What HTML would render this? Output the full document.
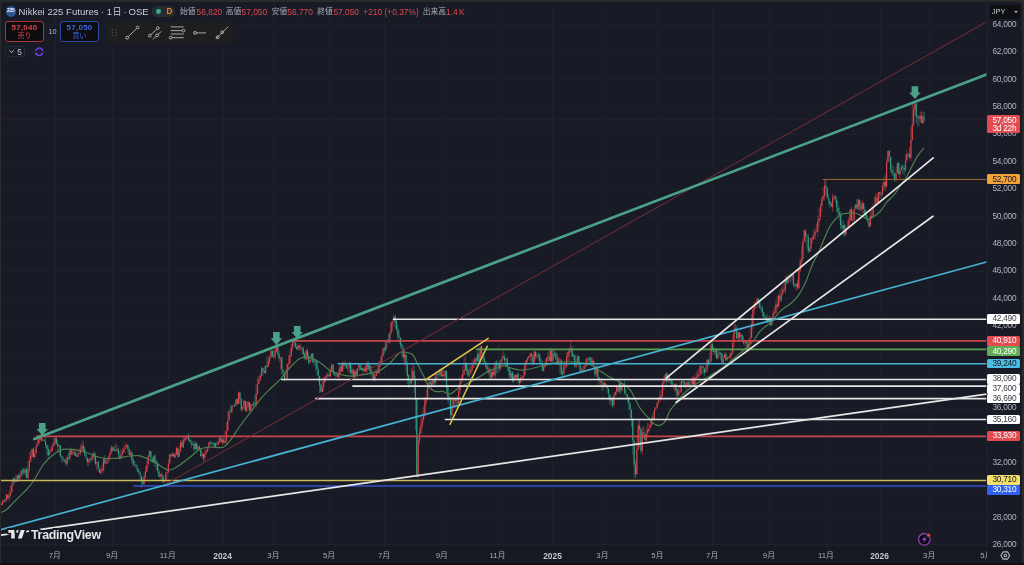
<!DOCTYPE html>
<html><head><meta charset="utf-8"><title>Nikkei 225 Futures</title>
<style>
*{box-sizing:border-box}
html,body{margin:0;padding:0;width:1024px;height:565px;overflow:hidden;background:#2a2a2a}
body{position:relative;font-family:"Liberation Sans","Noto Sans CJK JP",sans-serif}
#pane{position:absolute;left:1px;top:2px;width:1021px;height:561px;background:#181b26;border-radius:3px;overflow:hidden}
#tax{position:absolute;left:1px;top:547px;width:1021px;height:16px;background:#161822}
#bot{position:absolute;left:0;top:563px;width:1024px;height:2px;background:#111112}
svg{position:absolute;left:0;top:0}
.ax{position:absolute;left:992.4px;width:30px;font-size:8.3px;letter-spacing:-0.25px;color:#b0b3bb;line-height:10px;height:10px;margin-top:-5.1px;white-space:nowrap}
.bx{position:absolute;left:987px;width:33px;height:9.6px;margin-top:-4.8px;border-radius:1.5px;font-size:8.3px;letter-spacing:-0.25px;line-height:9.8px;padding-left:5.4px;padding-top:0.3px;white-space:nowrap}
.tm{position:absolute;top:3px;font-size:7.8px;color:#a9acb5;line-height:10px;transform:translateX(-50%);white-space:nowrap}
.tm.b{font-weight:bold;color:#c5c8d0;font-size:8.4px}
.hdr{position:absolute;white-space:nowrap;line-height:12px}
</style></head><body>
<div id="pane"></div>
<div id="tax"></div>
<div id="bot"></div>

<svg width="1024" height="565" viewBox="0 0 1024 565"><defs><clipPath id="cp"><rect x="1" y="2" width="985.5" height="545"/></clipPath></defs>
<line x1="987.0" y1="2" x2="987.0" y2="547" stroke="#1f2330" stroke-width="1"/>
<g clip-path="url(#cp)"><path d="M1 544.5H986.5 M1 517.5H986.5 M1 490.5H986.5 M1 462.5H986.5 M1 435.5H986.5 M1 408.5H986.5 M1 380.5H986.5 M1 353.5H986.5 M1 325.5H986.5 M1 298.5H986.5 M1 271.5H986.5 M1 243.5H986.5 M1 216.5H986.5 M1 189.5H986.5 M1 161.5H986.5 M1 134.5H986.5 M1 106.5H986.5 M1 79.5H986.5 M1 52.5H986.5 M1 24.5H986.5 M55.5 2V547 M112.5 2V547 M168.5 2V547 M223.5 2V547 M273.5 2V547 M329.5 2V547 M384.5 2V547 M442.5 2V547 M498.5 2V547 M552.5 2V547 M602.5 2V547 M657.5 2V547 M712.5 2V547 M769.5 2V547 M826.5 2V547 M880.5 2V547 M929.5 2V547" stroke="#1e2029" stroke-width="1" fill="none"/>
<line x1="1" y1="119.8" x2="986.5" y2="119.8" stroke="#2e1f2a" stroke-width="1"/>
<path d="M1.00 502.6V505.6M5.05 498.3V502.2M7.75 494.1V499.5M14.50 477.5V482.9M15.85 474.8V482.4M18.55 473.8V479.7M22.60 468.0V475.7M23.95 467.2V474.7M26.65 467.0V478.3M33.40 447.5V457.4M41.50 433.9V441.6M44.20 438.7V441.1M45.55 437.3V447.9M46.90 444.8V455.2M48.25 445.6V458.9M56.35 435.1V444.7M57.70 440.1V450.9M60.40 445.2V457.1M61.75 455.3V462.0M63.10 455.7V462.4M64.45 459.3V462.6M65.80 457.7V465.9M68.50 452.3V460.1M71.20 447.3V455.1M75.25 448.9V456.4M76.60 452.6V456.4M83.35 441.6V452.4M84.70 446.9V455.3M86.05 453.3V460.4M87.40 457.1V465.7M90.10 456.9V463.0M91.45 456.0V461.8M94.15 451.0V461.5M95.50 452.8V466.1M98.20 461.0V471.8M99.55 468.1V473.2M104.95 455.1V463.8M113.05 447.1V451.5M114.40 445.6V451.3M118.45 447.6V457.1M119.80 450.6V459.9M127.90 444.6V452.7M129.25 448.3V455.0M131.95 450.8V463.6M133.30 458.6V467.0M134.65 460.8V464.8M136.00 464.0V468.3M137.35 464.8V472.1M138.70 468.4V473.9M140.05 470.9V481.2M141.40 475.6V488.2M142.75 477.2V485.0M150.85 450.9V461.7M152.20 456.6V462.9M154.90 454.4V467.1M156.25 459.8V470.5M157.60 462.0V473.4M158.95 469.0V477.5M161.65 472.3V481.2M163.00 475.4V483.5M171.10 453.4V458.5M173.80 452.9V457.5M177.85 447.7V458.6M181.90 440.1V447.2M188.65 433.2V440.6M190.00 439.1V442.7M191.35 439.6V447.9M192.70 440.8V444.9M194.05 441.1V451.8M196.75 443.0V452.3M199.45 445.2V451.0M200.80 447.9V456.4M203.50 453.1V461.6M210.25 440.5V444.9M212.95 442.2V445.0M214.30 441.9V447.4M217.00 440.9V445.1M221.05 435.2V442.4M223.75 436.0V443.6M230.50 405.4V412.4M234.55 403.6V407.1M237.25 398.0V404.8M239.95 392.1V403.8M241.30 397.7V411.8M245.35 400.7V411.3M249.40 402.1V411.3M252.10 404.1V407.9M254.80 395.0V405.7M262.90 367.9V376.1M264.25 366.4V373.1M266.95 356.5V368.2M272.35 350.6V357.5M277.75 344.0V356.0M279.10 350.6V362.3M281.80 355.9V374.6M283.15 369.6V377.1M284.50 371.5V381.4M293.95 339.0V345.3M295.30 341.8V348.1M296.65 343.4V350.3M299.35 344.7V350.4M302.05 346.1V354.5M303.40 346.8V358.2M304.75 352.1V360.2M307.45 348.1V359.8M308.80 352.1V365.2M312.85 353.1V363.7M314.20 359.0V366.1M316.90 360.8V375.1M318.25 367.1V382.3M319.60 375.6V393.2M320.95 384.1V392.9M327.70 372.5V378.3M329.05 369.6V377.0M333.10 363.8V374.4M334.45 371.7V375.4M337.15 372.3V377.0M341.20 364.9V372.4M343.90 361.6V369.3M346.60 363.0V368.5M350.65 362.1V374.5M353.35 369.1V378.5M356.05 369.3V376.5M360.10 363.7V370.6M362.80 367.9V371.2M365.50 365.0V371.7M368.20 360.9V370.9M370.90 364.8V376.8M372.25 370.3V378.3M373.60 371.8V381.2M377.65 363.7V373.2M384.40 346.5V354.0M387.10 338.9V348.4M388.45 333.7V342.7M395.20 314.8V328.8M396.55 319.4V331.6M397.90 325.3V339.3M399.25 330.6V343.5M400.60 337.2V348.6M401.95 343.7V357.5M403.30 345.6V361.3M406.00 353.9V372.7M407.35 361.2V384.1M408.70 374.2V388.2M410.05 379.5V387.4M414.10 366.4V393.0M415.45 376.1V430.7M416.80 398.2V477.1M430.30 379.1V385.1M431.65 380.8V387.5M434.35 377.6V385.9M438.40 373.5V378.8M441.10 368.3V376.6M443.80 369.0V377.1M446.50 370.3V392.2M447.85 385.0V402.5M449.20 395.3V407.3M450.55 397.2V419.0M455.95 398.3V407.9M457.30 395.5V407.2M466.75 362.2V374.8M468.10 368.8V377.2M476.20 355.9V363.3M478.90 351.5V363.9M481.60 345.5V359.4M482.95 352.0V362.4M484.30 355.1V362.4M485.65 361.0V368.3M487.00 364.3V371.7M489.70 367.3V380.1M491.05 368.2V378.8M493.75 366.3V375.6M496.45 360.0V373.5M499.15 359.6V372.2M504.55 354.2V363.2M507.25 357.2V371.0M508.60 365.6V375.1M509.95 367.5V377.8M512.65 370.9V382.5M515.35 374.2V378.9M518.05 372.1V383.5M519.40 378.7V385.7M531.55 352.4V361.6M532.90 354.7V365.1M535.60 350.9V359.3M538.30 352.3V360.4M539.65 354.0V362.6M541.00 358.1V364.1M542.35 359.8V371.6M549.10 349.0V361.2M551.80 348.5V364.6M554.50 349.1V357.1M555.85 351.9V360.0M557.20 353.0V363.6M561.25 358.8V375.8M562.60 367.9V376.6M565.30 361.3V369.3M572.05 345.6V357.4M574.75 354.5V367.9M578.80 355.4V367.5M580.15 363.5V373.6M588.25 356.4V364.2M590.95 356.9V364.2M593.65 359.3V368.9M595.00 365.6V377.1M597.70 362.7V379.8M599.05 376.9V384.7M601.75 377.8V390.9M603.10 382.3V390.8M605.80 383.4V387.0M607.15 384.8V392.9M608.50 388.3V398.2M609.85 393.6V405.0M612.55 396.2V407.8M617.95 385.9V392.8M620.65 378.9V393.1M624.70 379.8V393.8M626.05 389.4V397.3M627.40 394.2V403.1M628.75 397.0V409.9M630.10 402.8V418.4M631.45 408.9V427.1M632.80 418.3V454.6M634.15 439.2V477.6M635.50 460.5V478.7M639.55 419.0V447.3M640.90 427.4V453.1M643.60 426.3V438.2M644.95 431.4V440.7M653.05 411.9V420.1M666.55 371.9V385.1M669.25 375.8V384.3M670.60 378.6V383.8M671.95 379.1V386.0M676.00 383.0V396.6M677.35 388.6V398.5M682.75 380.2V383.1M684.10 381.0V387.2M688.15 380.4V386.3M693.55 376.7V387.1M701.65 365.8V374.5M703.00 365.6V374.2M704.35 367.9V376.6M708.40 359.3V366.2M712.45 342.4V352.3M713.80 346.9V355.2M716.50 348.3V358.7M719.20 350.1V357.2M720.55 351.4V359.8M721.90 352.5V363.5M725.95 352.3V360.6M736.75 325.8V338.4M739.45 331.8V340.9M742.15 334.8V341.9M743.50 336.4V344.3M746.20 340.7V349.2M747.55 340.1V351.0M758.35 298.3V305.7M759.70 300.3V308.4M761.05 305.3V311.4M762.40 305.4V316.8M763.75 311.9V318.7M765.10 314.7V319.0M766.45 315.2V323.0M769.15 316.1V324.3M770.50 317.1V326.4M777.25 295.9V309.0M779.95 290.7V302.9M786.70 276.0V283.7M790.75 272.9V282.6M793.45 273.9V286.8M794.80 282.7V287.8M797.50 279.5V289.4M805.60 229.2V242.5M806.95 234.0V248.7M808.30 234.1V253.4M825.85 180.1V195.2M827.20 187.1V198.9M828.55 194.0V205.5M829.90 198.7V207.9M831.25 202.0V206.7M835.30 195.3V202.3M836.65 196.3V212.1M838.00 201.2V216.5M839.35 207.5V220.4M840.70 211.2V229.2M842.05 221.4V231.0M844.75 223.7V236.8M851.50 206.5V220.7M856.90 198.9V209.6M859.60 198.8V211.7M860.95 201.6V210.5M863.65 202.2V213.3M865.00 207.0V217.8M866.35 211.5V219.8M867.70 215.3V223.3M869.05 218.5V227.6M871.75 206.9V218.9M877.15 193.8V203.2M879.85 191.9V198.6M885.25 174.5V190.5M889.30 150.0V162.5M890.65 156.0V171.7M892.00 163.7V176.0M893.35 166.5V177.5M894.70 172.5V181.9M898.75 162.1V174.4M902.80 164.0V173.8M904.15 164.8V175.8M908.20 152.7V157.5M909.55 147.5V158.4M916.30 102.9V123.4M919.00 114.9V126.1M921.70 110.6V123.4M924.40 112.2V121.4" stroke="#31a083" stroke-width="0.55" fill="none" opacity="0.9"/>
<path d="M2.35 499.4V505.4M3.70 499.1V502.5M6.40 493.4V501.3M9.10 490.5V500.9M10.45 485.9V496.6M11.80 481.3V492.7M13.15 477.7V486.6M17.20 474.8V481.9M19.90 472.7V481.0M21.25 469.9V477.4M25.30 468.8V476.3M28.00 460.7V479.2M29.35 452.2V472.5M30.70 450.7V462.5M32.05 448.8V458.1M34.75 449.6V458.6M36.10 442.5V453.5M37.45 437.2V446.9M38.80 438.7V444.5M40.15 433.9V442.1M42.85 438.5V441.2M49.60 448.9V455.3M50.95 446.1V452.7M52.30 443.1V451.2M53.65 438.2V447.1M55.00 437.5V445.1M59.05 444.2V454.5M67.15 455.3V466.0M69.85 449.4V461.2M72.55 448.8V454.8M73.90 447.5V455.2M77.95 449.3V457.6M79.30 448.1V454.6M80.65 444.5V455.5M82.00 440.4V452.0M88.75 458.5V465.8M92.80 452.1V460.0M96.85 461.3V470.4M100.90 466.0V474.9M102.25 463.1V471.5M103.60 457.9V473.1M106.30 458.3V464.1M107.65 457.3V463.4M109.00 453.4V460.6M110.35 448.4V457.4M111.70 445.3V453.8M115.75 442.5V451.9M117.10 445.1V452.2M121.15 448.9V459.4M122.50 448.1V454.9M123.85 445.2V453.0M125.20 443.3V450.4M126.55 443.2V447.3M130.60 449.8V457.4M144.10 472.8V485.4M145.45 466.3V478.3M146.80 460.5V472.5M148.15 454.2V467.1M149.50 450.0V457.6M153.55 455.1V463.2M160.30 473.9V478.4M164.35 479.1V483.0M165.70 472.0V481.2M167.05 467.1V478.9M168.40 458.8V473.4M169.75 454.0V463.5M172.45 452.2V456.5M175.15 452.0V458.0M176.50 446.7V455.1M179.20 445.4V457.0M180.55 440.1V452.7M183.25 437.0V448.2M184.60 435.6V443.2M185.95 436.6V441.1M187.30 434.7V439.0M195.40 441.2V449.7M198.10 446.4V450.9M202.15 452.0V458.5M204.85 448.5V461.0M206.20 448.6V454.2M207.55 445.7V452.3M208.90 442.2V449.4M211.60 441.5V444.3M215.65 442.5V447.5M218.35 438.2V446.5M219.70 436.6V442.7M222.40 438.2V445.2M225.10 430.9V444.1M226.45 422.1V443.9M227.80 410.7V430.9M229.15 409.0V420.2M231.85 405.3V413.6M233.20 405.5V407.6M235.90 399.3V406.1M238.60 391.2V403.9M242.65 406.3V411.1M244.00 399.4V408.3M246.70 401.8V411.8M248.05 400.7V407.5M250.75 403.2V411.8M253.45 401.0V406.1M256.15 383.3V407.6M257.50 377.2V394.3M258.85 375.9V384.5M260.20 372.9V380.8M261.55 366.6V376.8M265.60 364.8V373.8M268.30 356.1V367.6M269.65 355.4V364.5M271.00 349.5V358.3M273.70 350.3V357.7M275.05 345.3V360.5M276.40 344.0V352.1M280.45 356.9V369.3M285.85 368.9V379.6M287.20 363.1V379.7M288.55 355.3V369.9M289.90 349.6V364.3M291.25 343.7V357.0M292.60 341.0V351.5M298.00 344.5V350.8M300.70 343.8V350.7M306.10 349.7V360.5M310.15 356.1V363.0M311.50 353.1V360.8M315.55 360.1V370.8M322.30 379.7V392.1M323.65 376.9V391.3M325.00 376.0V382.8M326.35 373.1V378.6M330.40 366.9V376.8M331.75 363.8V371.1M335.80 374.0V380.0M338.50 369.3V381.0M339.85 365.0V378.1M342.55 361.1V372.2M345.25 360.9V367.1M347.95 364.1V372.8M349.30 361.2V373.0M352.00 365.8V375.5M354.70 368.9V377.8M357.40 367.7V377.4M358.75 363.8V371.0M361.45 363.9V370.7M364.15 366.0V372.5M366.85 360.9V374.2M369.55 364.5V372.5M374.95 369.3V381.5M376.30 369.0V376.3M379.00 360.7V374.8M380.35 356.6V367.0M381.70 353.3V364.9M383.05 348.2V356.9M385.75 341.2V351.8M389.80 330.7V344.0M391.15 322.3V334.9M392.50 321.1V331.2M393.85 314.8V326.1M404.65 350.2V365.4M411.40 368.4V383.6M412.75 362.8V380.0M418.15 435.8V478.0M419.50 427.9V444.5M420.85 417.4V433.8M422.20 410.4V428.6M423.55 406.1V421.5M424.90 397.1V417.2M426.25 390.0V404.7M427.60 383.5V399.2M428.95 381.5V387.2M433.00 380.0V386.9M435.70 373.9V384.2M437.05 372.3V380.2M439.75 368.8V376.8M442.45 368.4V376.8M445.15 370.1V381.1M451.90 397.9V417.8M453.25 397.2V410.5M454.60 397.9V407.9M458.65 385.4V404.1M460.00 377.4V394.4M461.35 374.7V384.3M462.70 366.6V381.0M464.05 357.5V375.4M465.40 355.7V371.3M469.45 365.3V377.2M470.80 366.3V375.3M472.15 359.1V371.8M473.50 360.0V368.1M474.85 357.9V367.5M477.55 351.1V361.4M480.25 345.5V362.2M488.35 365.5V375.2M492.40 370.1V378.3M495.10 361.1V379.1M497.80 363.3V373.4M500.50 359.9V369.7M501.85 354.9V362.6M503.20 351.0V359.5M505.90 357.4V367.5M511.30 371.5V380.5M514.00 374.8V382.8M516.70 373.5V379.2M520.75 374.8V383.4M522.10 375.7V381.9M523.45 368.6V380.0M524.80 361.2V376.6M526.15 359.7V368.6M527.50 357.0V363.9M528.85 355.9V359.6M530.20 352.5V362.7M534.25 350.6V363.3M536.95 353.5V358.5M543.70 365.2V371.6M545.05 359.6V367.8M546.40 357.6V365.3M547.75 352.4V364.2M550.45 348.1V362.4M553.15 349.7V363.0M558.55 356.1V365.8M559.90 357.9V374.4M563.95 364.6V375.2M566.65 352.3V367.6M568.00 350.8V361.2M569.35 347.1V360.8M570.70 342.0V352.2M573.40 353.5V359.8M576.10 358.1V368.0M577.45 354.7V364.2M581.50 368.0V371.6M582.85 366.1V373.4M584.20 364.5V370.1M585.55 358.8V368.6M586.90 357.2V366.3M589.60 357.4V363.6M592.30 357.4V365.2M596.35 366.0V376.8M600.40 380.8V387.5M604.45 380.4V388.5M611.20 396.7V406.1M613.90 392.6V407.1M615.25 391.6V396.2M616.60 384.9V395.4M619.30 382.1V393.8M622.00 382.3V391.7M623.35 383.5V387.0M636.85 436.6V475.0M638.20 420.9V450.1M642.25 426.7V454.2M646.30 426.6V443.7M647.65 422.8V435.6M649.00 423.2V431.7M650.35 419.2V428.1M651.70 415.8V426.1M654.40 407.4V420.1M655.75 407.2V411.5M657.10 401.9V408.3M658.45 397.3V404.9M659.80 390.4V402.5M661.15 390.1V398.4M662.50 381.4V397.0M663.85 375.9V390.3M665.20 374.2V382.7M667.90 372.5V382.2M673.30 382.8V389.6M674.65 383.6V391.7M678.70 387.2V396.3M680.05 382.1V393.4M681.40 380.9V393.6M685.45 381.9V388.6M686.80 381.7V388.5M689.50 381.4V387.1M690.85 378.6V384.4M692.20 376.1V385.1M694.90 374.8V385.8M696.25 371.8V379.7M697.60 369.8V378.0M698.95 368.3V378.4M700.30 365.0V375.6M705.70 366.1V372.9M707.05 358.6V371.8M709.75 352.7V363.9M711.10 342.1V361.4M715.15 348.5V356.1M717.85 350.2V359.8M723.25 354.7V363.7M724.60 352.3V358.9M727.30 356.4V361.2M728.65 356.2V358.3M730.00 352.3V362.2M731.35 350.4V358.3M732.70 335.3V355.2M734.05 323.8V346.9M735.40 323.9V333.7M738.10 332.0V340.0M740.80 332.6V339.0M744.85 340.8V346.0M748.90 337.3V348.6M750.25 327.1V345.6M751.60 314.2V338.8M752.95 307.7V329.3M754.30 300.9V314.2M755.65 302.1V308.7M757.00 297.6V308.4M767.80 314.2V323.7M771.85 315.8V325.4M773.20 310.3V319.5M774.55 306.6V314.7M775.90 299.9V313.1M778.60 294.0V307.0M781.30 287.9V302.4M782.65 286.2V295.5M784.00 283.0V292.8M785.35 275.8V293.4M788.05 274.1V284.7M789.40 275.2V281.4M792.10 273.9V281.8M796.15 283.4V291.0M798.85 269.3V288.8M800.20 257.7V272.0M801.55 246.4V267.1M802.90 238.7V261.4M804.25 230.1V242.5M809.65 246.6V252.8M811.00 237.8V251.7M812.35 234.8V243.1M813.70 230.2V239.9M815.05 228.0V239.5M816.40 223.8V232.0M817.75 215.7V237.0M819.10 208.3V226.0M820.45 203.1V220.5M821.80 196.6V211.6M823.15 187.1V200.9M824.50 179.8V200.4M832.60 193.1V211.7M833.95 195.7V200.1M843.40 220.3V236.5M846.10 225.8V235.8M847.45 220.5V228.7M848.80 217.0V227.7M850.15 208.8V223.2M852.85 210.5V224.4M854.20 205.7V221.8M855.55 204.1V209.7M858.25 198.8V210.4M862.30 200.0V214.0M870.40 210.0V226.4M873.10 203.5V217.3M874.45 195.7V207.1M875.80 192.9V205.4M878.50 191.8V204.2M881.20 191.4V197.5M882.55 183.0V196.4M883.90 176.7V190.9M886.60 158.6V188.1M887.95 150.9V163.0M896.05 166.1V181.9M897.40 162.6V173.2M900.10 168.0V178.9M901.45 164.8V170.9M905.50 154.2V172.1M906.85 150.0V161.9M910.90 127.3V161.2M912.25 104.0V141.3M913.60 104.6V126.9M914.95 102.9V115.4M917.65 114.8V126.9M920.35 111.9V122.4M923.05 112.1V124.4" stroke="#dc444b" stroke-width="0.55" fill="none" opacity="0.9"/>
<path d="M1.00 503.9V505.2M5.05 500.1V501.5M7.75 494.9V498.0M14.50 478.2V480.4M15.85 480.4V481.9M18.55 474.9V478.2M22.60 470.1V470.9M23.95 469.6V473.5M26.65 468.8V478.0M33.40 448.5V457.1M41.50 435.4V440.1M44.20 439.7V441.1M45.55 441.5V445.1M46.90 444.8V448.9M48.25 448.7V455.4M56.35 438.1V444.1M57.70 444.0V446.3M60.40 445.5V456.7M61.75 457.1V458.5M63.10 459.1V459.9M64.45 459.5V460.3M65.80 460.3V463.5M68.50 457.7V458.5M71.20 450.3V454.8M75.25 452.5V456.1M76.60 455.7V456.5M83.35 445.4V450.0M84.70 449.0V455.2M86.05 455.1V457.1M87.40 458.0V462.0M90.10 458.6V459.4M91.45 458.7V459.8M94.15 453.3V456.7M95.50 456.1V463.9M98.20 461.5V468.8M99.55 469.2V472.7M104.95 458.3V463.6M113.05 447.2V450.5M114.40 449.6V450.4M118.45 449.7V454.8M119.80 455.6V458.6M127.90 444.9V448.9M129.25 449.1V454.7M131.95 452.6V460.2M133.30 459.7V464.7M134.65 464.3V465.1M136.00 465.2V467.3M137.35 468.1V470.3M138.70 470.2V472.1M140.05 472.4V475.1M141.40 475.8V480.8M142.75 480.6V484.1M150.85 451.3V457.6M152.20 458.5V461.4M154.90 455.5V461.8M156.25 460.9V463.1M157.60 463.1V470.4M158.95 471.2V476.7M161.65 474.3V475.7M163.00 475.6V481.6M171.10 454.6V456.2M173.80 453.8V456.8M177.85 448.2V456.4M181.90 442.3V447.1M188.65 435.5V440.6M190.00 440.2V442.2M191.35 442.9V444.3M192.70 444.3V445.1M194.05 443.9V449.6M196.75 443.2V449.1M199.45 446.8V449.5M200.80 449.2V456.2M203.50 454.1V458.2M210.25 441.7V443.8M212.95 443.0V443.8M214.30 443.5V446.3M217.00 443.5V444.3M221.05 437.8V442.0M223.75 439.3V442.8M230.50 411.0V411.8M234.55 404.9V406.0M237.25 399.1V403.6M239.95 392.7V398.9M241.30 399.0V409.5M245.35 401.1V410.8M249.40 402.1V410.8M252.10 404.4V405.6M254.80 403.1V403.9M262.90 368.2V371.0M264.25 370.8V373.0M266.95 365.8V366.9M272.35 350.8V356.6M277.75 344.6V353.8M279.10 353.9V358.4M281.80 357.7V369.6M283.15 369.6V372.5M284.50 373.1V380.5M293.95 341.4V342.6M295.30 342.7V347.0M296.65 346.9V349.1M299.35 345.4V347.8M302.05 347.8V349.0M303.40 348.7V354.0M304.75 353.8V358.5M307.45 350.5V356.5M308.80 355.7V363.0M312.85 353.6V362.3M314.20 361.3V362.1M316.90 361.5V369.0M318.25 369.4V375.8M319.60 375.9V385.5M320.95 384.7V391.8M327.70 374.9V375.7M329.05 374.4V376.0M333.10 364.6V371.9M334.45 372.3V375.4M337.15 374.3V376.7M341.20 366.0V371.1M343.90 362.9V365.7M346.60 364.8V368.4M350.65 363.4V373.0M353.35 370.5V377.5M356.05 371.0V376.0M360.10 364.8V370.0M362.80 368.2V370.8M365.50 368.4V371.0M368.20 363.2V369.2M370.90 366.5V373.7M372.25 373.4V374.2M373.60 374.2V380.5M377.65 372.1V373.0M384.40 348.4V350.5M387.10 341.1V341.9M388.45 341.5V342.4M395.20 316.2V321.9M396.55 321.2V329.3M397.90 329.5V337.1M399.25 337.2V338.0M400.60 337.8V345.1M401.95 344.8V347.5M403.30 348.1V357.6M406.00 355.0V363.2M407.35 363.3V376.0M408.70 375.3V380.8M410.05 380.9V383.6M414.10 371.2V378.6M415.45 379.1V399.8M416.80 399.3V476.9M430.30 381.9V383.7M431.65 383.0V385.3M434.35 379.8V382.8M438.40 374.1V374.9M441.10 369.5V376.4M443.80 375.1V375.9M446.50 371.3V387.9M447.85 387.8V397.0M449.20 396.8V399.4M450.55 399.8V415.0M455.95 399.3V402.3M457.30 402.7V403.5M466.75 363.3V370.6M468.10 369.6V375.5M476.20 358.4V360.7M478.90 353.9V361.5M481.60 346.5V352.9M482.95 353.2V358.7M484.30 358.4V362.4M485.65 362.3V366.0M487.00 365.4V369.6M489.70 369.8V372.3M491.05 372.2V377.8M493.75 371.8V374.7M496.45 362.1V365.2M499.15 363.5V368.9M504.55 356.8V360.5M507.25 359.1V366.9M508.60 367.6V370.6M509.95 369.9V377.6M512.65 372.4V381.5M515.35 375.1V377.4M518.05 374.1V379.7M519.40 379.5V383.2M531.55 353.9V355.8M532.90 355.6V363.1M535.60 351.9V356.3M538.30 354.6V355.4M539.65 354.8V361.4M541.00 361.5V362.4M542.35 363.4V370.6M549.10 356.5V360.9M551.80 350.6V361.1M554.50 353.3V354.2M555.85 353.7V358.4M557.20 357.8V362.3M561.25 360.2V373.5M562.60 372.6V374.4M565.30 365.5V366.3M572.05 348.4V356.8M574.75 355.1V365.7M578.80 355.9V364.9M580.15 365.3V371.6M588.25 358.7V359.5M590.95 357.5V363.9M593.65 361.0V364.8M595.00 365.7V374.5M597.70 366.7V376.9M599.05 377.0V380.7M601.75 381.3V382.2M603.10 382.5V386.9M605.80 383.5V385.3M607.15 385.0V388.6M608.50 388.5V393.5M609.85 394.5V400.4M612.55 399.0V405.5M617.95 387.2V391.5M620.65 382.8V389.5M624.70 383.7V393.7M626.05 394.0V394.8M627.40 394.6V396.9M628.75 397.1V403.3M630.10 403.6V409.5M631.45 409.8V418.2M632.80 418.6V440.6M634.15 440.7V464.8M635.50 464.7V474.2M639.55 425.6V429.2M640.90 429.1V450.8M643.60 432.3V433.1M644.95 433.4V439.8M653.05 417.8V420.0M666.55 373.3V381.0M669.25 375.8V379.6M670.60 379.3V380.7M671.95 380.2V385.7M676.00 383.7V390.7M677.35 389.7V395.3M682.75 381.0V381.8M684.10 381.4V385.7M688.15 382.1V384.9M693.55 377.9V384.5M701.65 366.0V366.8M703.00 366.5V368.1M704.35 368.2V372.9M708.40 359.6V363.2M712.45 344.5V348.8M713.80 348.6V352.1M716.50 348.9V358.6M719.20 352.4V353.4M720.55 353.2V354.3M721.90 353.6V362.5M725.95 354.0V360.6M736.75 327.7V338.4M739.45 332.1V337.6M742.15 334.8V340.5M743.50 340.7V343.2M746.20 341.2V343.7M747.55 343.9V348.3M758.35 298.4V302.3M759.70 302.1V307.8M761.05 307.5V308.6M762.40 308.4V312.8M763.75 312.6V317.0M765.10 317.0V317.8M766.45 317.7V322.0M769.15 318.3V319.5M770.50 318.6V325.4M777.25 304.4V306.8M779.95 295.9V299.8M786.70 279.5V283.1M790.75 276.3V277.1M793.45 274.7V284.6M794.80 285.1V285.9M797.50 283.1V287.7M805.60 230.8V236.0M806.95 235.9V236.7M808.30 236.8V251.0M825.85 185.6V187.6M827.20 187.4V197.4M828.55 198.3V200.5M829.90 201.2V203.7M831.25 203.4V206.6M835.30 196.6V199.6M836.65 199.9V207.0M838.00 207.5V212.6M839.35 212.5V215.0M840.70 214.6V225.6M842.05 225.6V228.2M844.75 224.9V234.5M851.50 209.3V220.5M856.90 204.3V208.6M859.60 199.9V205.9M860.95 205.7V209.6M863.65 203.4V208.8M865.00 209.5V215.3M866.35 214.7V218.7M867.70 219.0V221.2M869.05 221.9V226.6M871.75 215.9V216.9M877.15 198.0V202.1M879.85 192.2V194.0M885.25 181.9V186.6M889.30 150.8V156.2M890.65 157.0V169.7M892.00 169.9V172.8M893.35 172.9V173.7M894.70 173.5V180.3M898.75 162.9V174.4M902.80 166.7V167.5M904.15 167.8V169.9M908.20 154.5V155.3M909.55 154.2V158.0M916.30 103.6V117.1M919.00 116.7V118.7M921.70 115.5V123.1M924.40 117.6V118.7" stroke="#31a083" stroke-width="1.15" fill="none"/>
<path d="M2.35 501.7V504.7M3.70 501.0V502.2M6.40 494.8V500.6M9.10 495.2V498.2M10.45 492.5V495.5M11.80 484.8V492.3M13.15 478.6V484.6M17.20 475.6V481.8M19.90 475.0V478.9M21.25 470.6V475.3M25.30 469.4V472.6M28.00 470.1V478.2M29.35 460.9V470.3M30.70 455.9V461.4M32.05 449.1V456.4M34.75 453.8V457.3M36.10 446.5V453.5M37.45 444.7V446.1M38.80 439.1V444.0M40.15 435.8V439.8M42.85 439.8V440.6M49.60 452.0V454.9M50.95 450.1V451.8M52.30 446.4V451.1M53.65 442.9V446.3M55.00 437.7V443.5M59.05 445.4V446.8M67.15 457.1V463.8M69.85 450.7V458.5M72.55 453.2V454.0M73.90 452.0V453.4M77.95 454.3V456.9M79.30 453.2V454.0M80.65 449.2V453.2M82.00 445.7V449.2M88.75 459.5V461.9M92.80 453.7V459.1M96.85 462.5V463.6M100.90 470.3V473.4M102.25 468.8V470.8M103.60 458.7V469.7M106.30 462.9V463.9M107.65 460.9V463.1M109.00 455.5V460.4M110.35 451.8V455.1M111.70 446.4V452.1M115.75 450.1V450.9M117.10 448.7V450.3M121.15 454.7V458.1M122.50 452.5V454.7M123.85 449.1V452.7M125.20 447.2V448.9M126.55 444.9V446.9M130.60 453.1V454.9M144.10 477.1V483.5M145.45 471.3V477.4M146.80 465.1V471.4M148.15 456.6V464.6M149.50 451.0V456.4M153.55 456.4V461.3M160.30 474.1V476.2M164.35 481.2V482.0M165.70 473.6V481.1M167.05 472.5V473.3M168.40 463.4V472.3M169.75 454.3V463.4M172.45 454.1V456.0M175.15 454.2V457.8M176.50 447.9V454.7M179.20 450.6V456.8M180.55 442.2V450.9M183.25 439.8V447.7M184.60 439.5V440.3M185.95 437.4V440.3M187.30 435.9V438.1M195.40 443.2V448.9M198.10 446.5V449.1M202.15 453.9V455.9M204.85 453.8V457.8M206.20 451.1V453.5M207.55 448.6V451.0M208.90 442.2V447.6M211.60 443.7V444.5M215.65 442.7V447.2M218.35 442.0V443.9M219.70 437.6V442.4M222.40 440.0V442.8M225.10 441.5V442.9M226.45 430.4V441.7M227.80 420.3V430.6M229.15 411.2V420.0M231.85 405.5V412.2M233.20 405.7V406.5M235.90 399.4V405.4M238.60 392.3V403.9M242.65 407.1V409.2M244.00 400.6V406.5M246.70 406.5V411.3M248.05 401.7V406.3M250.75 404.4V410.6M253.45 403.6V405.8M256.15 393.8V404.4M257.50 384.7V394.0M258.85 379.9V383.9M260.20 375.5V380.0M261.55 367.5V375.5M265.60 365.8V373.6M268.30 361.0V366.6M269.65 356.7V361.2M271.00 351.0V357.1M273.70 356.7V357.5M275.05 350.2V357.3M276.40 344.1V351.2M280.45 357.4V358.4M285.85 379.4V380.2M287.20 364.0V379.6M288.55 363.0V363.8M289.90 355.5V363.4M291.25 347.5V356.2M292.60 341.2V347.8M298.00 345.5V349.6M300.70 348.0V348.8M306.10 350.6V359.5M310.15 359.9V362.7M311.50 354.1V359.2M315.55 360.5V362.2M322.30 387.0V391.9M323.65 381.6V387.3M325.00 377.0V382.2M326.35 375.2V377.1M330.40 370.7V376.7M331.75 364.8V370.8M335.80 374.5V375.3M338.50 374.2V377.0M339.85 367.0V374.0M342.55 362.9V371.4M345.25 364.7V365.8M347.95 367.8V368.7M349.30 362.9V367.4M352.00 369.5V373.5M354.70 371.6V377.7M357.40 368.6V376.0M358.75 364.8V367.6M361.45 367.9V369.6M364.15 368.3V371.3M366.85 363.2V370.6M369.55 365.8V369.8M374.95 375.3V380.2M376.30 371.9V375.9M379.00 362.7V373.2M380.35 361.5V363.7M381.70 355.9V362.5M383.05 348.4V355.9M385.75 341.6V350.2M389.80 333.0V342.4M391.15 322.3V332.9M392.50 321.6V322.7M393.85 317.1V321.1M404.65 354.0V358.0M411.40 378.9V383.4M412.75 370.7V378.7M418.15 440.6V477.0M419.50 433.0V440.9M420.85 425.5V433.6M422.20 420.3V425.7M423.55 415.7V420.2M424.90 400.8V415.5M426.25 398.4V401.5M427.60 386.7V398.1M428.95 381.8V386.9M433.00 380.0V384.5M435.70 375.0V382.4M437.05 373.8V375.1M439.75 369.5V374.6M442.45 374.1V376.2M445.15 371.1V376.7M451.90 406.9V415.5M453.25 399.9V406.6M454.60 399.7V400.5M458.65 390.8V403.1M460.00 382.1V390.4M461.35 381.4V382.4M462.70 374.0V380.4M464.05 370.0V374.5M465.40 364.0V370.5M469.45 373.4V374.8M470.80 369.7V373.3M472.15 365.0V370.2M473.50 363.3V364.8M474.85 358.6V363.8M477.55 353.7V360.9M480.25 346.7V361.9M488.35 369.0V370.5M492.40 371.7V377.6M495.10 362.8V375.4M497.80 364.3V365.4M500.50 362.5V368.5M501.85 358.4V362.3M503.20 355.9V357.9M505.90 358.9V360.0M511.30 372.9V377.8M514.00 375.7V380.7M516.70 375.1V377.6M520.75 377.9V382.6M522.10 377.3V378.4M523.45 375.6V377.6M524.80 363.6V375.1M526.15 360.6V363.0M527.50 358.1V360.5M528.85 356.1V358.1M530.20 353.5V356.3M534.25 351.6V362.4M536.95 355.6V356.8M543.70 366.7V370.7M545.05 363.0V366.7M546.40 357.7V362.7M547.75 356.6V357.4M550.45 350.9V361.6M553.15 354.0V360.9M558.55 361.0V361.9M559.90 359.3V360.8M563.95 365.2V373.6M566.65 356.1V366.5M568.00 352.3V356.5M569.35 349.0V352.9M570.70 348.2V349.0M573.40 355.1V356.2M576.10 362.4V366.5M577.45 356.5V361.5M581.50 371.1V371.9M582.85 368.9V371.6M584.20 366.1V369.0M585.55 365.3V366.1M586.90 358.6V365.7M589.60 357.4V359.6M592.30 360.8V362.9M596.35 367.0V373.7M600.40 381.1V381.9M604.45 383.2V386.7M611.20 398.0V401.1M613.90 395.8V405.1M615.25 391.8V395.6M616.60 387.3V391.6M619.30 383.3V391.8M622.00 385.2V390.5M623.35 384.7V385.5M636.85 449.5V474.4M638.20 425.4V449.5M642.25 432.5V451.1M646.30 433.9V440.4M647.65 430.1V433.6M649.00 428.6V431.1M650.35 424.9V428.0M651.70 417.8V425.3M654.40 409.9V419.9M655.75 407.5V409.3M657.10 403.0V408.0M658.45 400.7V402.4M659.80 396.8V400.4M661.15 395.2V397.2M662.50 382.9V395.7M663.85 380.4V383.3M665.20 374.3V380.5M667.90 374.8V381.4M673.30 386.0V386.8M674.65 384.0V386.3M678.70 391.8V394.7M680.05 390.8V391.6M681.40 381.2V391.4M685.45 386.2V387.0M686.80 382.7V385.5M689.50 384.7V385.5M690.85 384.0V384.8M692.20 378.2V384.2M694.90 378.0V384.6M696.25 376.9V378.5M697.60 375.7V377.2M698.95 374.1V375.9M700.30 366.0V373.4M705.70 370.3V371.9M707.05 360.1V370.6M709.75 361.2V362.7M711.10 344.4V361.4M715.15 349.9V352.6M717.85 353.4V358.1M723.25 359.1V362.9M724.60 354.6V358.2M727.30 357.3V359.6M728.65 357.2V358.2M730.00 355.1V357.8M731.35 353.0V355.5M732.70 343.0V352.4M734.05 329.5V342.5M735.40 327.9V329.4M738.10 332.7V338.7M740.80 334.6V336.6M744.85 341.1V342.5M748.90 341.8V347.9M750.25 338.8V342.8M751.60 324.0V338.1M752.95 309.7V324.9M754.30 305.5V309.8M755.65 304.1V304.9M757.00 299.3V304.0M767.80 318.2V322.2M771.85 317.9V325.0M773.20 313.2V317.8M774.55 312.6V313.4M775.90 304.5V312.8M778.60 295.5V306.4M781.30 294.0V300.3M782.65 289.9V293.9M784.00 289.5V290.5M785.35 279.2V290.2M788.05 277.1V282.8M789.40 276.5V277.3M792.10 274.5V276.5M796.15 283.8V286.2M798.85 270.1V288.2M800.20 261.5V270.6M801.55 259.0V262.2M802.90 241.5V259.0M804.25 230.3V241.4M809.65 248.8V251.2M811.00 238.1V248.5M812.35 238.6V239.4M813.70 235.9V239.0M815.05 231.7V235.8M816.40 231.4V232.2M817.75 221.4V231.8M819.10 217.9V221.8M820.45 206.6V217.1M821.80 199.2V206.2M823.15 196.0V199.5M824.50 185.8V196.4M832.60 197.4V207.2M833.95 195.7V197.2M843.40 225.5V228.6M846.10 229.3V234.3M847.45 227.8V228.6M848.80 219.9V227.5M850.15 209.4V220.5M852.85 219.7V220.5M854.20 209.0V219.9M855.55 204.5V208.6M858.25 199.8V209.5M862.30 203.1V209.3M870.40 215.8V226.2M873.10 206.7V216.7M874.45 205.2V206.0M875.80 197.2V205.2M878.50 192.2V202.7M881.20 194.1V194.9M882.55 185.9V194.0M883.90 181.5V186.4M886.60 161.9V186.2M887.95 151.0V161.8M896.05 173.4V180.1M897.40 163.1V173.1M900.10 170.3V174.4M901.45 166.4V170.1M905.50 160.8V169.7M906.85 153.9V160.2M910.90 140.0V157.8M912.25 124.8V140.0M913.60 109.7V125.0M914.95 103.9V110.3M917.65 116.8V117.8M920.35 116.1V118.2M923.05 116.6V123.1" stroke="#dc444b" stroke-width="1.15" fill="none"/>
<path d="M1,512.5C1.9,512.0 4.5,511.2 6.4,509.7C8.3,508.2 10.6,505.4 12.7,503.3C14.8,501.2 16.7,499.3 19.1,496.9C21.5,494.5 24.7,491.6 27.1,489C29.5,486.4 31.6,483.7 33.5,481C35.4,478.3 36.6,475.7 38.2,473C39.8,470.3 41.4,467.2 43,465C44.6,462.8 45.9,461.4 47.8,459.5C49.7,457.6 52.1,455.5 54.2,453.9C56.3,452.3 58.5,450.7 60.6,449.9C62.7,449.1 64.5,449.1 66.9,449.1C69.3,449.1 71.9,449.4 74.9,449.9C77.9,450.4 80.8,450.7 85,452C89.2,453.3 95.0,456.4 100,457.5C105.0,458.6 110.0,458.6 115,458.4C120.0,458.1 125.8,456.4 130,456C134.2,455.6 136.7,455.1 140,455.8C143.3,456.5 146.7,458.4 150,460C153.3,461.6 157.0,463.8 160,465.5C163.0,467.2 165.5,469.6 168,470C170.5,470.4 172.2,469.5 175,468C177.8,466.5 181.7,463.5 185,461C188.3,458.5 192.5,455.0 195,453C197.5,451.0 197.5,450.0 200,449C202.5,448.0 206.2,447.3 210,447C213.8,446.7 219.7,448.4 223,447.3C226.3,446.2 227.2,444.2 230,440.7C232.8,437.1 236.7,430.6 240,426C243.3,421.4 246.7,417.2 250,412.8C253.3,408.4 256.7,403.6 260,399.6C263.3,395.6 266.7,392.3 270,389C273.3,385.7 276.7,383.3 280,379.7C283.3,376.1 286.7,371.0 290,367.5C293.3,364.0 296.7,360.1 300,358.5C303.3,356.9 306.7,357.0 310,357.7C313.3,358.4 316.7,360.5 320,362.6C323.3,364.7 326.7,368.4 330,370.4C333.3,372.3 336.7,373.3 340,374.3C343.3,375.3 346.7,376.1 350,376.2C353.3,376.3 356.7,375.7 360,375.2C363.3,374.7 366.7,374.1 370,373.3C373.3,372.5 376.7,372.1 380,370.4C383.3,368.7 386.7,366.0 390,363C393.3,360.0 397.2,354.2 400,352.5C402.8,350.8 404.8,352.1 407,352.5C409.2,352.9 411.3,353.3 413,355C414.7,356.7 415.3,359.5 417,362.8C418.7,366.1 421.0,370.8 423,374.8C425.0,378.8 427.0,384.1 429,386.9C431.0,389.7 432.7,390.6 435,391.4C437.3,392.2 440.5,391.1 443,391.5C445.5,391.9 447.2,394.8 450,394C452.8,393.2 456.7,388.9 460,387C463.3,385.1 466.7,384.1 470,382.3C473.3,380.5 476.7,378.3 480,376.4C483.3,374.4 486.7,372.2 490,370.6C493.3,369.0 497.5,367.5 500,366.7C502.5,365.9 503.3,365.5 505,365.7C506.7,365.9 507.5,367.0 510,367.7C512.5,368.4 516.7,369.8 520,370C523.3,370.2 525.8,369.8 530,369C534.2,368.2 540.0,366.1 545,365C550.0,363.9 555.0,362.6 560,362.1C565.0,361.6 570.0,361.7 575,362.1C580.0,362.5 585.8,363.0 590,364.5C594.2,366.0 596.7,368.9 600,371C603.3,373.1 606.7,375.3 610,377.2C613.3,379.1 616.7,380.1 620,382.2C623.3,384.3 626.7,385.3 630,389.6C633.3,393.9 636.9,403.3 640,408C643.1,412.7 646.2,415.4 648.5,418C650.8,420.6 652.1,422.5 654,423.7C655.9,424.9 658.1,425.9 660,425.4C661.9,424.9 663.9,423.2 665.5,420.8C667.1,418.4 668.1,413.8 669.7,411C671.4,408.2 673.5,406.3 675.4,403.9C677.3,401.5 678.9,399.2 681,396.8C683.1,394.4 684.8,392.2 688,389.7C691.2,387.1 696.3,383.8 700,381.5C703.7,379.2 707.1,377.7 710,375.9C712.9,374.1 714.8,372.5 717.3,370.9C719.8,369.2 722.3,367.9 724.8,366C727.3,364.1 729.7,361.9 732.2,359.8C734.7,357.7 737.1,355.7 739.6,353.6C742.1,351.5 744.6,349.7 747,347.4C749.4,345.1 752.0,342.5 754,340C756.0,337.5 757.3,334.6 759,332.5C760.7,330.4 762.6,328.7 764.4,327.2C766.2,325.7 767.9,325.0 769.7,323.4C771.5,321.8 773.2,319.6 775,317.6C776.8,315.6 778.5,313.0 780.3,311.2C782.1,309.4 784.0,308.1 785.6,307C787.2,305.9 787.9,306.2 790,304.3C792.1,302.4 795.8,299.0 798.4,295.4C801.0,291.8 803.2,287.6 805.5,282.6C807.8,277.6 809.8,270.4 812.1,265.2C814.4,259.9 817.1,255.8 819.2,251.1C821.3,246.4 823.0,241.2 824.9,236.9C826.8,232.6 828.6,228.6 830.5,225.5C832.4,222.4 834.3,220.3 836.2,218.4C838.1,216.5 840.4,215.0 841.9,214.2C843.4,213.4 842.8,213.7 845,213.5C847.2,213.3 852.2,212.6 855,213C857.8,213.4 859.7,215.0 862,216C864.3,217.0 865.8,219.8 868.8,219C871.8,218.2 877.0,214.3 880,211.5C883.0,208.7 884.4,204.9 886.6,202.3C888.8,199.7 891.1,198.3 893.3,195.7C895.5,193.0 897.7,189.5 899.9,186.4C902.1,183.3 904.3,180.8 906.5,177.1C908.7,173.3 911.2,167.7 913.2,163.9C915.2,160.2 916.7,157.2 918.5,154.6C920.3,151.9 922.9,149.1 923.8,148" stroke="#4e7f4f" stroke-width="1.2" fill="none"/>
<line x1="392.8" y1="319.22" x2="986.5" y2="319.22" stroke="#e6e6e6" stroke-width="1.6"/>
<line x1="292" y1="340.85" x2="986.5" y2="340.85" stroke="#c8444c" stroke-width="1.6"/>
<line x1="476" y1="349.34" x2="986.5" y2="349.34" stroke="#5a9f4b" stroke-width="1.6"/>
<line x1="337.7" y1="363.71" x2="986.5" y2="363.71" stroke="#45b2d3" stroke-width="1.6"/>
<line x1="281" y1="379.46" x2="986.5" y2="379.46" stroke="#e6e6e6" stroke-width="1.6"/>
<line x1="352.3" y1="386.17" x2="986.5" y2="386.17" stroke="#e6e6e6" stroke-width="1.6"/>
<line x1="315" y1="398.62" x2="986.5" y2="398.62" stroke="#e6e6e6" stroke-width="1.6"/>
<line x1="444.8" y1="419.57" x2="986.5" y2="419.57" stroke="#e6e6e6" stroke-width="1.6"/>
<line x1="36.2" y1="436.41" x2="986.5" y2="436.41" stroke="#c8444c" stroke-width="1.6"/>
<line x1="1" y1="480.49" x2="986.5" y2="480.49" stroke="#cbb95a" stroke-width="1.6"/>
<line x1="133.3" y1="485.97" x2="986.5" y2="485.97" stroke="#3052c8" stroke-width="1.6"/>
<line x1="822.8" y1="179.45" x2="986.5" y2="179.45" stroke="#9c6a34" stroke-width="1"/>
<line x1="166.6" y1="483.5" x2="986.5" y2="22.0" stroke="#7a2e36" stroke-width="1" stroke-linecap="round"/>
<line x1="0" y1="530.0" x2="986.5" y2="262.0" stroke="#45b2d3" stroke-width="1.7" stroke-linecap="round"/>
<line x1="0" y1="535.3" x2="986.5" y2="394.1" stroke="#e6e6e6" stroke-width="1.7" stroke-linecap="round"/>
<line x1="666.2" y1="378.2" x2="933.2" y2="157.8" stroke="#e6e6e6" stroke-width="1.7" stroke-linecap="round"/>
<line x1="676.1" y1="402.5" x2="933.0" y2="216.3" stroke="#e6e6e6" stroke-width="1.7" stroke-linecap="round"/>
<line x1="425.3" y1="380.0" x2="488.2" y2="338.3" stroke="#dcc446" stroke-width="1.5" stroke-linecap="round"/>
<line x1="450.0" y1="424.4" x2="487.3" y2="346.2" stroke="#dcc446" stroke-width="1.5" stroke-linecap="round"/>
<line x1="34.3" y1="438.9" x2="986.5" y2="74.4" stroke="#4aa186" stroke-width="2.7" stroke-linecap="round"/>
<path d="M38.9 423.0H45.5V429.0H47.9L42.2 435.6L36.5 429.0H38.9Z" fill="#4aa186"/>
<path d="M273.1 332.1H279.7V338.3H282.1L276.4 345.0L270.7 338.3H273.1Z" fill="#4aa186"/>
<path d="M293.9 326.1H300.5V332.1H302.9L297.2 338.6L291.5 332.1H293.9Z" fill="#4aa186"/>
<path d="M911.6 86.2H918.2V92.4H920.6L914.9 99.1L909.2 92.4H911.6Z" fill="#4aa186"/></g></svg>
<div class="ax" style="top:544.1px">26,000</div>
<div class="ax" style="top:516.7px">28,000</div>
<div class="ax" style="top:489.4px">30,000</div>
<div class="ax" style="top:462.0px">32,000</div>
<div class="ax" style="top:434.6px">34,000</div>
<div class="ax" style="top:407.2px">36,000</div>
<div class="ax" style="top:379.8px">38,000</div>
<div class="ax" style="top:352.5px">40,000</div>
<div class="ax" style="top:325.1px">42,000</div>
<div class="ax" style="top:297.7px">44,000</div>
<div class="ax" style="top:270.3px">46,000</div>
<div class="ax" style="top:242.9px">48,000</div>
<div class="ax" style="top:215.6px">50,000</div>
<div class="ax" style="top:188.2px">52,000</div>
<div class="ax" style="top:160.8px">54,000</div>
<div class="ax" style="top:133.4px">56,000</div>
<div class="ax" style="top:106.0px">58,000</div>
<div class="ax" style="top:78.7px">60,000</div>
<div class="ax" style="top:51.3px">62,000</div>
<div class="ax" style="top:23.9px">64,000</div>
<div class="bx" style="top:318.9px;background:#ffffff;color:#3a3c42">42,490</div>
<div class="bx" style="top:340.8px;background:#e24a50;color:#ffffff">40,910</div>
<div class="bx" style="top:351.0px;background:#5fae55;color:#ffffff">40,290</div>
<div class="bx" style="top:363.7px;background:#4bbde0;color:#131722">39,240</div>
<div class="bx" style="top:378.9px;background:#ffffff;color:#3a3c42">38,090</div>
<div class="bx" style="top:388.8px;background:#ffffff;color:#3a3c42">37,600</div>
<div class="bx" style="top:398.7px;background:#ffffff;color:#3a3c42">36,690</div>
<div class="bx" style="top:419.6px;background:#ffffff;color:#3a3c42">35,160</div>
<div class="bx" style="top:435.9px;background:#e24a50;color:#ffffff">33,930</div>
<div class="bx" style="top:179.1px;background:#f2a33a;color:#131722">52,700</div>
<div class="bx" style="top:479.9px;background:#f4df6a;color:#131722">30,710</div>
<div class="bx" style="top:489.9px;background:#2f62f0;color:#ffffff">30,310</div>
<div style="position:absolute;left:987px;top:114.8px;width:33px;height:18px;background:#e24a50;border-radius:1.5px;color:#fff;font-size:8.3px;letter-spacing:-0.25px;line-height:8px;padding:1.2px 0 0 5.4px">57,050<br>3d 22h</div>
<div style="position:absolute;left:990px;top:4.5px;width:30px;height:14px;background:#0e0f13;border-radius:2px;color:#c9ccd3;font-size:7.4px;line-height:14px;padding-left:1.8px">JPY<span style="position:absolute;right:2px;top:6.3px;width:0;height:0;border-left:2.2px solid transparent;border-right:2.2px solid transparent;border-top:2px solid #b9bcc4"></span></div>
<div style="position:absolute;left:0;top:548px;width:986.5px;height:14px;overflow:hidden">
<div class="tm" style="left:54.8px">7月</div>
<div class="tm" style="left:112px">9月</div>
<div class="tm" style="left:167.8px">11月</div>
<div class="tm b" style="left:222.6px">2024</div>
<div class="tm" style="left:273.4px">3月</div>
<div class="tm" style="left:329px">5月</div>
<div class="tm" style="left:384px">7月</div>
<div class="tm" style="left:441.8px">9月</div>
<div class="tm" style="left:497.5px">11月</div>
<div class="tm b" style="left:552.5px">2025</div>
<div class="tm" style="left:602.4px">3月</div>
<div class="tm" style="left:657.4px">5月</div>
<div class="tm" style="left:712.2px">7月</div>
<div class="tm" style="left:768.9px">9月</div>
<div class="tm" style="left:825.9px">11月</div>
<div class="tm b" style="left:879.5px">2026</div>
<div class="tm" style="left:929.2px">3月</div>
<div class="tm" style="left:986.4px">5月</div>
</div>
<div style="position:absolute;left:5.5px;top:6px;width:10.6px;height:10.6px;border-radius:50%;background:#2b5494;color:#fff;font-size:4.8px;font-weight:bold;line-height:10.6px;text-align:center;letter-spacing:-0.2px">225</div>
<div class="hdr" style="left:18.6px;top:6px;font-size:9.6px;color:#c9ccd4">Nikkei 225 Futures<span style="position:absolute;left:82.2px">·</span><span style="position:absolute;left:88.1px">1</span><span style="position:absolute;left:94.1px;top:-0.3px;font-size:8.8px">日</span><span style="position:absolute;left:104.8px">·</span><span style="position:absolute;left:109.9px">OSE</span></div>
<div style="position:absolute;left:152px;top:6.4px;width:23.4px;height:10.6px;border-radius:5.3px;background:#2e2a29;overflow:hidden"><div style="position:absolute;left:0;top:0;width:11.6px;height:10.6px;background:#1e3034"></div></div>
<div style="position:absolute;left:156.1px;top:9px;width:4.8px;height:4.8px;border-radius:50%;background:#47a889"></div>
<div class="hdr" style="left:166.5px;top:5.7px;font-size:8.2px;font-weight:bold;color:#e0852c">D</div>
<div class="hdr" style="left:180px;top:6.4px;font-size:7.8px;color:#a9acb5">始値</div>
<div class="hdr" style="left:196.6px;top:6.2px;font-size:8.4px;color:#e0474c">56,820</div>
<div class="hdr" style="left:225.8px;top:6.4px;font-size:7.8px;color:#a9acb5">高値</div>
<div class="hdr" style="left:241.5px;top:6.2px;font-size:8.4px;color:#e0474c">57,050</div>
<div class="hdr" style="left:271.8px;top:6.4px;font-size:7.8px;color:#a9acb5">安値</div>
<div class="hdr" style="left:287.3px;top:6.2px;font-size:8.4px;color:#e0474c">56,770</div>
<div class="hdr" style="left:317.2px;top:6.4px;font-size:7.8px;color:#a9acb5">終値</div>
<div class="hdr" style="left:333.4px;top:6.2px;font-size:8.4px;color:#e0474c">57,050</div>
<div class="hdr" style="left:363.3px;top:6.2px;font-size:8.4px;color:#e0474c">+210 (+0.37%)</div>
<div class="hdr" style="left:422.7px;top:6.4px;font-size:7.8px;color:#a9acb5">出来高</div>
<div class="hdr" style="left:445.9px;top:6.2px;font-size:8.4px;color:#e0474c" ><span style="word-spacing:-0.9px">1.4 K</span></div>

<div style="position:absolute;left:5.2px;top:21.2px;width:38.6px;height:20.4px;border:1px solid #a8343c;border-radius:3px;background:#0d0d10"></div>
<div class="hdr" style="left:5.2px;top:24.2px;width:38.6px;text-align:center;font-size:8px;font-weight:bold;letter-spacing:0.25px;color:#d8454b;line-height:8px">57,040</div>
<div class="hdr" style="left:5.2px;top:32.3px;width:38.6px;text-align:center;font-size:7px;color:#d8454b;line-height:8px">売り</div>
<div class="hdr" style="left:48.5px;top:27.5px;font-size:7.4px;color:#b2b5be;line-height:8px">10</div>
<div style="position:absolute;left:60.4px;top:21.2px;width:38.4px;height:20.4px;border:1px solid #2b4aa3;border-radius:3px;background:#0d0d10"></div>
<div class="hdr" style="left:60.4px;top:24.2px;width:38.4px;text-align:center;font-size:8px;font-weight:bold;letter-spacing:0.25px;color:#3a67e6;line-height:8px">57,050</div>
<div class="hdr" style="left:60.4px;top:32.3px;width:38.4px;text-align:center;font-size:7px;color:#3a67e6;line-height:8px">買い</div>

<div style="position:absolute;left:5.4px;top:45.7px;width:19.3px;height:11.8px;border:1px solid #262a35;border-radius:2px"></div>
<svg width="1024" height="70" style="position:absolute;left:0;top:0" viewBox="0 0 1024 70">
<path d="M9.5 50.4L11.6 52.5L13.7 50.4" stroke="#c0c3ca" stroke-width="1" fill="none"/>
<g stroke="#6a3cf0" stroke-width="1.5" fill="none"><path d="M35.6 51.2A3.6 3.6 0 0 1 42.2 49.8"/><path d="M42.8 52.4A3.6 3.6 0 0 1 36.2 53.8"/></g><path d="M43.3 48.2L43.1 51.2L40.6 50.2Z" fill="#6a3cf0"/><path d="M35.1 55.4L35.3 52.4L37.8 53.4Z" fill="#6a3cf0"/>
<rect x="106.9" y="21.7" width="126.2" height="22.2" rx="4" fill="#1e1e20"/>
<g fill="#5a5a5e"><circle cx="112.2" cy="29.7" r="0.7"/><circle cx="116" cy="29.7" r="0.7"/><circle cx="112.2" cy="32.6" r="0.7"/><circle cx="116" cy="32.6" r="0.7"/><circle cx="112.2" cy="35.5" r="0.7"/><circle cx="116" cy="35.5" r="0.7"/></g>
<g stroke="#b9b9bc" stroke-width="0.9" fill="none">
<line x1="128.3" y1="36.6" x2="136.5" y2="28.7"/><circle cx="127.2" cy="37.7" r="1.4"/><circle cx="137.6" cy="27.6" r="1.4"/>
<line x1="150.9" y1="34.6" x2="156.7" y2="29.3"/><circle cx="149.8" cy="35.7" r="1.4"/><circle cx="157.8" cy="28.2" r="1.4"/>
<line x1="153.1" y1="39.3" x2="156.1" y2="36.3"/><line x1="158.1" y1="34.3" x2="161.4" y2="31.3"/><circle cx="157.1" cy="35.3" r="1.4"/>
<line x1="170.7" y1="26.9" x2="183.7" y2="26.9"/><line x1="170.7" y1="30.6" x2="182.1" y2="30.6"/><circle cx="183.5" cy="30.6" r="1.4"/>
<line x1="170.7" y1="34" x2="183.7" y2="34"/><line x1="172.1" y1="37.7" x2="183.7" y2="37.7"/><circle cx="170.7" cy="37.7" r="1.4"/>
<line x1="196.4" y1="32.9" x2="206" y2="32.9"/><circle cx="195" cy="32.9" r="1.4"/>
<line x1="216.2" y1="38.6" x2="228.2" y2="26.6"/><circle cx="217.6" cy="37.3" r="1.4"/><circle cx="222.2" cy="32.3" r="1.4"/>
</g>
</svg>
<div class="hdr" style="left:17.2px;top:45.8px;font-size:8.4px;color:#c0c3ca;line-height:12px">5</div>

<div class="hdr" style="left:31px;top:527.5px;font-size:12.4px;line-height:14px;font-weight:bold;color:#e6e6e8;letter-spacing:-0.27px;text-shadow:1px 0px 0 #161923,-1px 0px 0 #161923,0px 1px 0 #161923,0px -1px 0 #161923,1px 1px 0 #161923,-1px -1px 0 #161923,1px -1px 0 #161923,-1px 1px 0 #161923,2px 0px 0 #161923,-2px 0px 0 #161923,0px 2px 0 #161923,0px -2px 0 #161923,2px 1px 0 #161923,-2px 1px 0 #161923,2px -1px 0 #161923,-2px -1px 0 #161923,1px 2px 0 #161923,-1px 2px 0 #161923,1px -2px 0 #161923,-1px -2px 0 #161923">TradingView</div>
<svg width="1024" height="565" style="position:absolute;left:0;top:0" viewBox="0 0 1024 565">
<g fill="#e6e6e8" stroke="#161923" stroke-width="3.6" paint-order="stroke" stroke-linejoin="round">
<path d="M8.3 529.9H14.7V538.6H11.2V532.8H8.3Z"/>
<circle cx="17.9" cy="531.4" r="1.6"/>
<path d="M20.7 529.9H24.8L21.9 538.6H17.9Z"/>
</g>
<circle cx="924.3" cy="539.3" r="5.8" fill="#0c0b12" stroke="#8e3fb8" stroke-width="1.3"/>
<path d="M925.9 535.4L921.9 540.1H924.4L922.8 543.4L927 538.4H924.5Z" fill="#9a45c8"/>
<circle cx="928.6" cy="535.2" r="2.4" fill="#181b26"/><circle cx="928.6" cy="535.2" r="1.7" fill="#e0454a"/>
<g stroke="#b2b5be" stroke-width="1.1" fill="none" stroke-linejoin="round"><path d="M1003.1 551.9L1007.5 551.9L1009.7 555.5L1007.5 559.1L1003.1 559.1L1000.9 555.5Z"/><circle cx="1005.3" cy="555.5" r="1.3"/></g>
</svg>

</body></html>
